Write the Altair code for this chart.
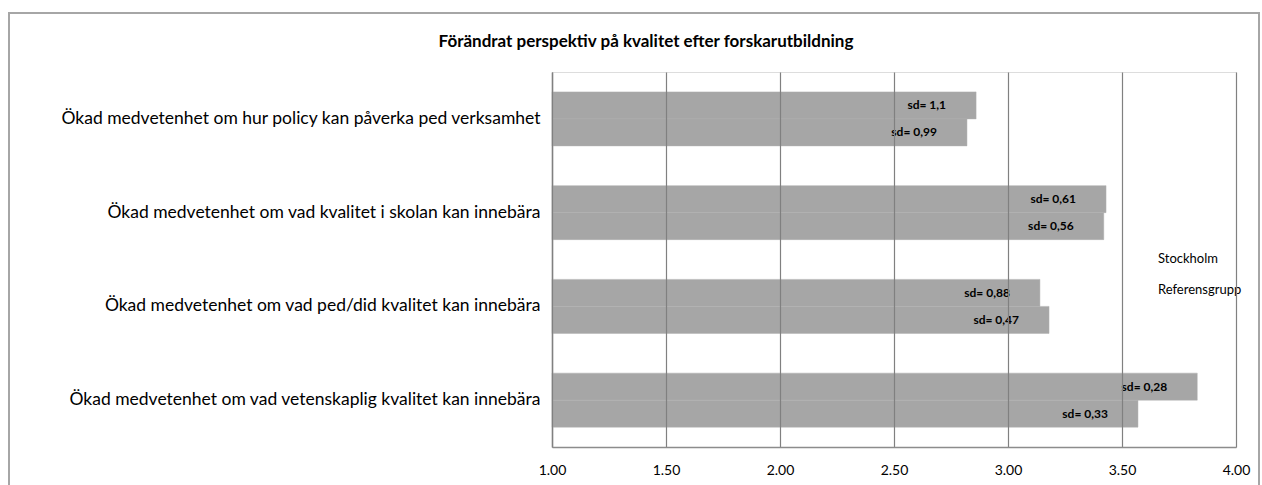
import altair as alt
import pandas as pd

categories = [
    "Ökad medvetenhet om hur policy kan påverka ped verksamhet",
    "Ökad medvetenhet om vad kvalitet i skolan kan innebära",
    "Ökad medvetenhet om vad ped/did kvalitet kan innebära",
    "Ökad medvetenhet om vad vetenskaplig kvalitet kan innebära",
]
series = ["Stockholm", "Referensgrupp"]
stockholm = [2.86, 3.43, 3.14, 3.83]
referens = [2.82, 3.42, 3.18, 3.57]
sd_stockholm = ["1,1", "0,61", "0,88", "0,28"]
sd_referens = ["0,99", "0,56", "0,47", "0,33"]
title_text = "Förändrat perspektiv på kvalitet efter forskarutbildning"
x_ticks = [1.0, 1.5, 2.0, 2.5, 3.0, 3.5, 4.0]

rows = []
for i, c in enumerate(categories):
    rows.append({"cat": c, "serie": series[0], "value": stockholm[i], "sd": "sd= " + sd_stockholm[i]})
    rows.append({"cat": c, "serie": series[1], "value": referens[i], "sd": "sd= " + sd_referens[i]})
df = pd.DataFrame(rows)

FONT = "Lato"
BAR = "#a6a6a6"

y_enc = alt.Y(
    "cat:N",
    sort=categories,
    title=None,
    scale=alt.Scale(paddingInner=0.424, paddingOuter=0.212),
    axis=alt.Axis(
        labelFont=FONT, labelFontSize=17.5, labelColor="#000000", labelPadding=12,
        labelLimit=600, ticks=False, domainColor="#8c8c8c", domainWidth=1.5,
    ),
)
yoff = alt.YOffset("serie:N", sort=series, scale=alt.Scale(paddingInner=0, paddingOuter=0))
x_enc = alt.X(
    "value:Q",
    title=None,
    scale=alt.Scale(domain=[1, 4], nice=False, zero=False),
    axis=alt.Axis(
        values=x_ticks, format=".2f", labelFont=FONT, labelFontSize=14, labelColor="#000000",
        labelPadding=16, ticks=False, grid=True, gridColor="#808080", gridWidth=1.2,
        domainColor="#8c8c8c", domainWidth=1.5, zindex=1, labelFlush=False,
    ),
)

bars = alt.Chart(df).mark_bar(color=BAR, stroke="#b0b0b0", strokeWidth=1, strokeOpacity=0.5).encode(
    y=y_enc,
    yOffset=yoff,
    x=x_enc,
    x2=alt.datum(1),
    color=alt.Color(
        "serie:N", sort=series,
        scale=alt.Scale(domain=series, range=[BAR, BAR]),
        legend=alt.Legend(
            title=None, orient="none", legendX=593, legendY=180, symbolSize=0,
            symbolOpacity=0, symbolStrokeWidth=0, labelFont=FONT, labelFontSize=13,
            labelColor="#000000", rowPadding=17, labelOffset=0, symbolOffset=0,
        ),
    ),
)

labels = alt.Chart(df).mark_text(
    align="right", baseline="middle", dx=-30, font=FONT, fontSize=12, fontWeight="bold", color="#000000"
).encode(
    y=alt.Y("cat:N", sort=categories),
    yOffset=yoff,
    x=alt.X("value:Q"),
    text="sd:N",
)

frame_df = pd.DataFrame({"t": [title_text]})
frame = alt.Chart(frame_df).mark_rect(fill=None, stroke="#a6a6a6", strokeWidth=2).encode(
    x=alt.value(-543), x2=alt.value(707), y=alt.value(-59), y2=alt.value(440)
)
title = alt.Chart(frame_df).mark_text(
    font=FONT, fontSize=17, fontWeight="bold", color="#000000", align="center", baseline="middle"
).encode(x=alt.value(94), y=alt.value(-30), text="t:N")

chart = (
    alt.layer(frame, bars, labels, title)
    .properties(width=684, height=375, padding={"left": 552, "top": 72, "right": 26, "bottom": 38},
                autosize=alt.AutoSizeParams(type="none"))
    .configure_view(stroke=None)
    .configure(background="#ffffff")
)

chart.save("out.html", embed_options={"renderer": "svg", "actions": False})
